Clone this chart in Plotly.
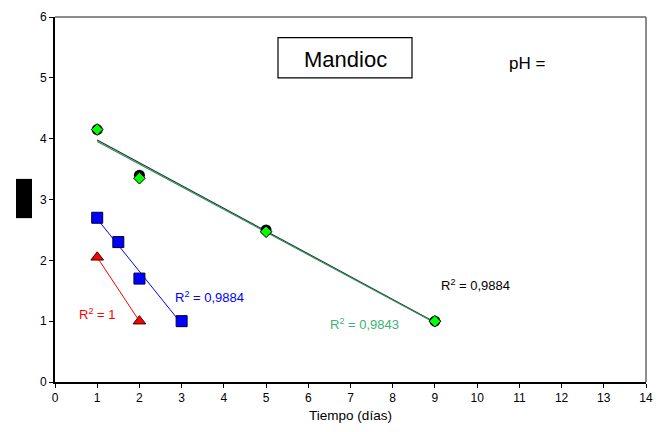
import numpy as np
import plotly.graph_objects as go

# Measured data
dias_a = [1, 2, 5, 9]
valor_a = [4.15, 3.40, 2.50, 1.00]          # black circles
valor_a2 = [4.15, 3.35, 2.47, 1.00]         # green diamonds
dias_b = [1, 1.5, 2, 3]
valor_b = [2.70, 2.30, 1.70, 1.00]          # blue squares
dias_c = [1, 2]
valor_c = [2.05, 1.00]                      # red triangles

x_ticks = list(range(0, 15))
y_ticks = list(range(0, 7))

# plot area in pixels (used to place paper-referenced shapes)
L, R, T, B = 55, 18, 10, 50
W, H = 664, 432
PW, PH = W - L - R, H - T - B


def px(xp):
    return (xp - L) / PW


def py(yp):
    return (H - B - yp) / PH


def trend(x, y):
    k, b = np.polyfit(x, y, 1)
    xs = np.array([min(x), max(x)], dtype=float)
    return xs, k * xs + b


fig = go.Figure()

tx, ty = trend(dias_a, valor_a)
fig.add_trace(go.Scatter(x=tx, y=ty, mode="lines", line=dict(color="#1a3a2a", width=1.1),
                         hoverinfo="skip", showlegend=False))
tx, ty = trend(dias_a, valor_a2)
fig.add_trace(go.Scatter(x=tx, y=ty, mode="lines", line=dict(color="#2E8B57", width=1.1),
                         hoverinfo="skip", showlegend=False))
tx, ty = trend(dias_b, valor_b)
fig.add_trace(go.Scatter(x=tx, y=ty, mode="lines", line=dict(color="#0000FF", width=1),
                         hoverinfo="skip", showlegend=False))
tx, ty = trend(dias_c, valor_c)
fig.add_trace(go.Scatter(x=tx, y=ty, mode="lines", line=dict(color="#FF0000", width=1),
                         hoverinfo="skip", showlegend=False))

fig.add_trace(go.Scatter(x=dias_a, y=valor_a, mode="markers", showlegend=False,
                         marker=dict(symbol="circle", size=11, color="#000000")))
fig.add_trace(go.Scatter(x=dias_a, y=valor_a2, mode="markers", showlegend=False,
                         marker=dict(symbol="diamond", size=9, color="#00FF00",
                                     line=dict(color="#000000", width=1))))
fig.add_trace(go.Scatter(x=dias_b, y=valor_b, mode="markers", showlegend=False,
                         marker=dict(symbol="square", size=11, color="#0000FF",
                                     line=dict(color="#000033", width=1))))
fig.add_trace(go.Scatter(x=dias_c, y=valor_c, mode="markers", showlegend=False,
                         marker=dict(symbol="triangle-up", size=11, color="#FF0000",
                                     line=dict(color="#330000", width=1))))

font = "Liberation Sans, Arial, sans-serif"
ann = [
    dict(x=9.95, y=1.60, text="R<sup>2</sup> = 0,9884", color="#000000"),
    dict(x=7.34, y=0.95, text="R<sup>2</sup> = 0,9843", color="#3CB371"),
    dict(x=3.67, y=1.39, text="R<sup>2</sup> = 0,9884", color="#0000FF"),
    dict(x=1.0, y=1.11, text="R<sup>2</sup> = 1", color="#FF0000"),
]
for a in ann:
    fig.add_annotation(x=a["x"], y=a["y"], xref="x", yref="y", text=a["text"],
                       xanchor="center", yanchor="middle", showarrow=False,
                       font=dict(family=font, size=13, color=a["color"]))

# title box and side labels
fig.add_shape(type="rect", xref="paper", yref="paper",
              x0=px(278), x1=px(412), y0=py(72), y1=py(31),
              line=dict(color="#000000", width=1.2), fillcolor="white")
fig.add_annotation(x=px(345), y=py(53), xref="paper", yref="paper", text="Mandioc",
                   xanchor="center", yanchor="middle",
                   showarrow=False, font=dict(family=font, size=22, color="#000000"))
fig.add_annotation(x=px(527), y=py(57), xref="paper", yref="paper", text="pH =",
                   xanchor="center", yanchor="middle",
                   showarrow=False, font=dict(family=font, size=17, color="#000000"))
fig.add_shape(type="rect", xref="paper", yref="paper",
              x0=px(16), x1=px(32), y0=py(215), y1=py(175),
              line=dict(width=0), fillcolor="#000000")

# gray frame on top and right
fig.add_shape(type="line", xref="paper", yref="paper", x0=0, x1=1, y0=1, y1=1,
              line=dict(color="#666666", width=1.5))
fig.add_shape(type="line", xref="paper", yref="paper", x0=1, x1=1, y0=0, y1=1,
              line=dict(color="#666666", width=1.5))

fig.update_xaxes(range=[0, 14], tickvals=x_ticks, ticktext=[str(v) for v in x_ticks],
                 showgrid=False, zeroline=False, showline=True, linecolor="#000000",
                 linewidth=2, ticks="outside", ticklen=4, tickcolor="#000000",
                 tickfont=dict(family=font, size=12, color="#000000"),
                 title=dict(text="Tiempo (días)", font=dict(family=font, size=13.5, color="#000000"),
                            standoff=6))
fig.update_yaxes(range=[0, 6], tickvals=y_ticks, ticktext=[str(v) for v in y_ticks],
                 showgrid=False, zeroline=False, showline=True, linecolor="#000000",
                 linewidth=2, ticks="outside", ticklen=4, tickcolor="#000000",
                 tickfont=dict(family=font, size=12, color="#000000"))

fig.update_layout(width=W, height=H, margin=dict(l=L, r=R, t=T, b=B),
                  plot_bgcolor="white", paper_bgcolor="white")

fig.write_html("out.html")
